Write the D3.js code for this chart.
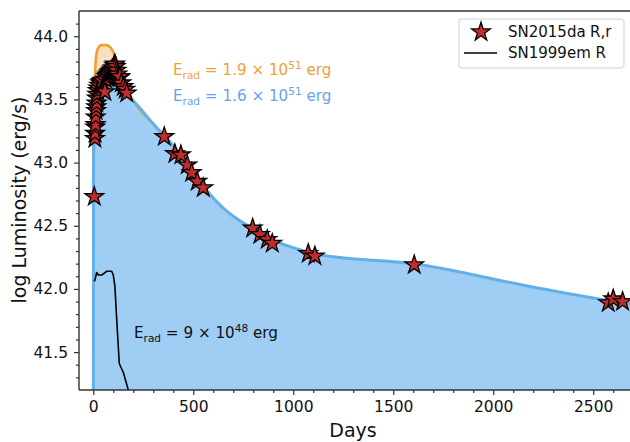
<!DOCTYPE html>
<html>
<head>
<meta charset="utf-8">
<script src="https://cdn.jsdelivr.net/npm/d3@7"></script>
<style>
  html, body { margin: 0; padding: 0; background: #fff; }
  svg { display: block; font-family: "DejaVu Sans", sans-serif; }
</style>
</head>
<body>
<svg id="chart" width="630" height="442"></svg>
<script>
// SN2015da photometry (R, r bands): days since explosion and log luminosity
const sn2015daDays = [5, 8, 9, 10, 11, 12, 14, 15, 17, 18, 20, 22, 25, 30, 35, 40, 45, 58,
  60, 65, 70, 75, 80, 85, 90, 95, 100, 105, 108, 112, 116, 120, 125, 130, 133, 140, 150, 160, 167,
  355, 408, 438, 470, 492, 520, 550,
  797, 833, 870, 895,
  1075, 1108, 1605,
  2575, 2600, 2647];
const sn2015daLum = [42.73, 43.19, 43.23, 43.28, 43.30, 43.36, 43.41, 43.44, 43.47, 43.51, 43.54, 43.57, 43.59, 43.61, 43.63, 43.64, 43.65, 43.56,
  43.66, 43.68, 43.69, 43.70, 43.71, 43.72, 43.73, 43.74, 43.75, 43.77, 43.78, 43.76, 43.73, 43.70, 43.68, 43.67, 43.68, 43.63, 43.60, 43.58, 43.55,
  43.205, 43.07, 43.06, 42.98, 42.92, 42.85, 42.80,
  42.48, 42.43, 42.39, 42.36,
  42.28, 42.26, 42.19,
  41.89, 41.92, 41.90];

// Model light curve with E_rad = 1.6e51 erg
const model16Days = [0, 1, 3, 10, 20, 40, 60, 80, 95, 110, 198, 298, 418, 498, 583, 650, 733, 797, 908, 1033, 1133, 1603, 2183, 2573, 2750];
const model16Lum = [40.5, 42.9, 43.2, 43.35, 43.43, 43.51, 43.56, 43.59, 43.60, 43.59, 43.49, 43.31, 43.10, 42.93, 42.75, 42.64, 42.54, 42.48, 42.38, 42.31, 42.27, 42.20, 42.02, 41.91, 41.87];

// Model light curve with E_rad = 1.9e51 erg
const model19Days = [0, 3, 6, 10, 15, 25, 40, 60, 80, 95, 108, 125, 150, 175, 200, 298];
const model19Lum = [43.04, 43.35, 43.60, 43.75, 43.85, 43.91, 43.93, 43.93, 43.92, 43.89, 43.84, 43.76, 43.65, 43.56, 43.49, 43.31];

// SN1999em R-band light curve
const sn1999emDays = [5, 8, 17, 25, 42, 67, 92, 100, 108, 117, 130, 138, 150, 175, 183];
const sn1999emLum = [42.06, 42.07, 42.13, 42.11, 42.11, 42.14, 42.14, 42.11, 42.02, 41.76, 41.41, 41.38, 41.34, 41.20, 41.16];

const xTicks = [0, 500, 1000, 1500, 2000, 2500];
const yTicks = [41.5, 42.0, 42.5, 43.0, 43.5, 44.0];

const svg = d3.select("#chart");
const plot = { left: 79, top: 11, right: 640, bottom: 390 };

const x = d3.scaleLinear().domain([-71.5, 2734]).range([plot.left, plot.right]);
const y = d3.scaleLinear().domain([41.2, 44.2]).range([plot.bottom, plot.top]);

const zip = (a, b) => a.map((d, i) => [d, b[i]]);
const m16 = zip(model16Days, model16Lum);
const m19 = zip(model19Days, model19Lum);
const em = zip(sn1999emDays, sn1999emLum);
const obs = zip(sn2015daDays, sn2015daLum);

svg.append("defs").append("clipPath").attr("id", "plotClip")
  .append("rect").attr("x", plot.left).attr("y", plot.top)
  .attr("width", plot.right - plot.left).attr("height", plot.bottom - plot.top);

const g = svg.append("g").attr("clip-path", "url(#plotClip)");

const smooth = d3.curveMonotoneX;
const area = d3.area().curve(smooth).x(d => x(d[0])).y0(y(41.2)).y1(d => y(d[1]));
const line = d3.line().curve(smooth).x(d => x(d[0])).y(d => y(d[1]));
const rawLine = d3.line().x(d => x(d[0])).y(d => y(d[1]));

// filled model regions
g.append("path").datum(m19).attr("d", area).attr("fill", "#fbdfc2");
g.append("path").datum(m16).attr("d", area).attr("fill", "#9fcdf4");

// model curves
g.append("path").datum(m19).attr("d", line).attr("fill", "none")
  .attr("stroke", "#f0a02c").attr("stroke-width", 2.6).attr("stroke-linejoin", "round");
g.append("path").datum(m16).attr("d", line).attr("fill", "none")
  .attr("stroke", "#62b0ea").attr("stroke-width", 3).attr("stroke-linejoin", "round");

// SN1999em
g.append("path").datum(em).attr("d", rawLine).attr("fill", "none")
  .attr("stroke", "#000").attr("stroke-width", 1.6).attr("stroke-linejoin", "round");

// SN2015da stars
const star = d3.symbol().type(d3.symbolStar).size(108);
g.selectAll("path.star").data(obs).join("path")
  .attr("class", "star")
  .attr("d", star)
  .attr("transform", d => `translate(${x(d[0])},${y(d[1])})`)
  .attr("fill", "#c42b2b").attr("stroke", "#000").attr("stroke-width", 1.3);

// energy annotations
function eradLabel(px, py, mant, exp, color, box) {
  const grp = svg.append("g");
  const t = grp.append("text").attr("x", px).attr("y", py)
    .attr("font-size", 15.2).attr("fill", color);
  t.append("tspan").text("E");
  t.append("tspan").attr("font-size", 10.5).attr("dy", 4).text("rad");
  t.append("tspan").attr("dy", -4).text(` = ${mant} × 10`);
  t.append("tspan").attr("font-size", 10.5).attr("dy", -6).text(exp);
  t.append("tspan").attr("dy", 6).text(" erg");
  if (box) {
    const b = t.node().getBBox();
    grp.insert("rect", "text").attr("x", b.x - 4).attr("y", b.y - 3)
      .attr("width", b.width + 8).attr("height", b.height + 6)
      .attr("fill", "#fff").attr("opacity", 0.75);
  }
}
eradLabel(173, 75, "1.9", "51", "#f0a03a", true);
eradLabel(173, 101, "1.6", "51", "#6b9ff0", true);
eradLabel(134, 338, "9", "48", "#111", false);

// axes
const axisColor = "#333";
const xAxis = svg.append("g").attr("transform", `translate(0,${plot.bottom})`)
  .call(d3.axisBottom(x).tickValues(xTicks).tickFormat(d3.format("d")).tickSize(5).tickPadding(6));
svg.append("g").attr("transform", `translate(0,${plot.bottom})`)
  .call(d3.axisBottom(x).tickValues(d3.range(0, 2701, 100).filter(v => v % 500 !== 0)).tickFormat("").tickSize(3))
  .call(a => a.select(".domain").remove());
const yAxis = svg.append("g").attr("transform", `translate(${plot.left},0)`)
  .call(d3.axisLeft(y).tickValues(yTicks).tickFormat(d3.format(".1f")).tickSize(5).tickPadding(6));
svg.append("g").attr("transform", `translate(${plot.left},0)`)
  .call(d3.axisLeft(y).tickValues(d3.range(413, 442).map(v => v / 10).filter(v => Math.round(v * 10) % 5 !== 0)).tickFormat("").tickSize(3))
  .call(a => a.select(".domain").remove());

svg.selectAll(".tick text").attr("font-size", 15.5).attr("fill", "#111")
  .attr("font-family", "DejaVu Sans, sans-serif");
svg.selectAll(".tick line").attr("stroke", axisColor).attr("stroke-width", 1.2);
svg.selectAll(".domain").attr("stroke", axisColor).attr("stroke-width", 1.4);
xAxis.select(".domain").attr("d", `M${plot.left},0H${plot.right}`);
yAxis.select(".domain").attr("d", `M0,${plot.top}V${plot.bottom}`);

// top spine
svg.append("line").attr("x1", plot.left).attr("x2", plot.right)
  .attr("y1", plot.top).attr("y2", plot.top)
  .attr("stroke", axisColor).attr("stroke-width", 1.4);

// axis titles
svg.append("text").attr("x", 353).attr("y", 437).attr("text-anchor", "middle")
  .attr("font-size", 19).attr("fill", "#111").text("Days");
svg.append("text").attr("transform", "translate(26,200) rotate(-90)")
  .attr("text-anchor", "middle").attr("font-size", 19).attr("fill", "#111")
  .text("log Luminosity (erg/s)");

// legend
const lg = svg.append("g");
lg.append("rect").attr("x", 459).attr("y", 19).attr("width", 165).attr("height", 49)
  .attr("rx", 3).attr("fill", "#fff").attr("fill-opacity", 0.85)
  .attr("stroke", "#d0d0d0").attr("stroke-width", 1);
lg.append("path").attr("d", star).attr("transform", "translate(481,32)")
  .attr("fill", "#c42b2b").attr("stroke", "#000").attr("stroke-width", 1.3);
lg.append("line").attr("x1", 464).attr("x2", 497).attr("y1", 53).attr("y2", 53)
  .attr("stroke", "#000").attr("stroke-width", 1.6);
const l1 = lg.append("text").attr("y", 37).attr("font-size", 15).attr("fill", "#111");
l1.append("tspan").attr("x", 508).text("SN2015da");
l1.append("tspan").attr("x", 590).text("R,r");
lg.append("text").attr("x", 508).attr("y", 58).attr("font-size", 15).attr("fill", "#111")
  .text("SN1999em R");
</script>
</body>
</html>
